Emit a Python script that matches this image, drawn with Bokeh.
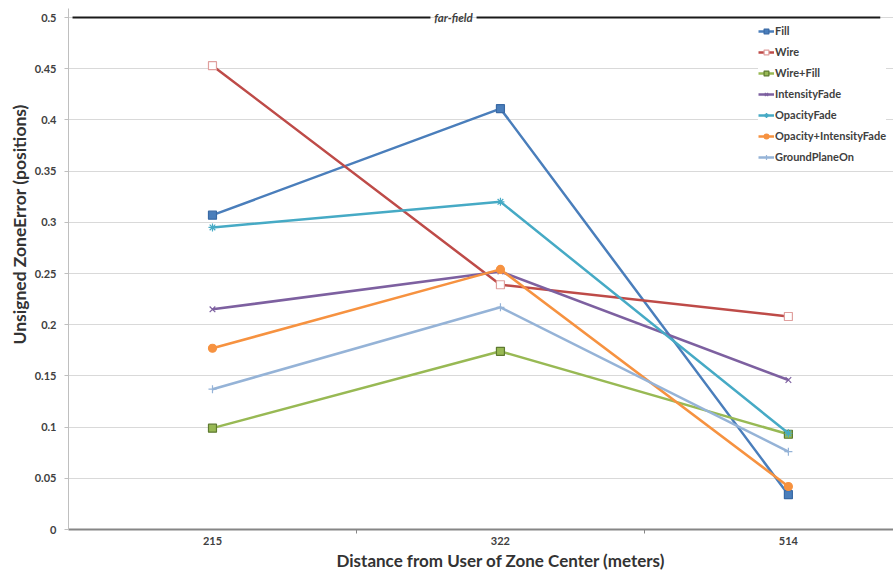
from bokeh.plotting import figure
from bokeh.models import Range1d, FixedTicker, Label, Legend, Title
from bokeh.embed import file_html
from bokeh.resources import INLINE

# ---- data ----
categories = ["215", "322", "514"]
fill = [0.307, 0.411, 0.034]
wire = [0.453, 0.239, 0.208]
wire_fill = [0.099, 0.174, 0.093]
intensity_fade = [0.215, 0.252, 0.146]
opacity_fade = [0.295, 0.320, 0.094]
opacity_intensity_fade = [0.177, 0.254, 0.042]
ground_plane_on = [0.137, 0.217, 0.076]
y_ticks = [0, 0.05, 0.1, 0.15, 0.2, 0.25, 0.3, 0.35, 0.4, 0.45, 0.5]
y_tick_labels = ["0", "0.05", "0.1", "0.15", "0.2", "0.25", "0.3", "0.35", "0.4", "0.45", "0.5"]
far_field_level = 0.5
far_field_label_x = 0.837          # category-axis position of the "far-field" label
far_field_x0 = [-0.486, 0.917]     # reference line pieces (left of / right of the label)
far_field_x1 = [0.757, 2.319]

FONT = "Lato"
TXT = "#404040"

xs = list(range(len(categories)))

p = figure(width=893, height=570, output_backend="svg", toolbar_location=None,
           x_range=Range1d(-0.5, 2.365), y_range=Range1d(0, 0.5088),
           min_border_left=68, min_border_right=0, min_border_top=8, min_border_bottom=40)
p.outline_line_color = None
p.background_fill_color = "white"

# axes
p.yaxis.ticker = FixedTicker(ticks=y_ticks)
p.yaxis.major_label_overrides = {t: l for t, l in zip(y_ticks, y_tick_labels)}
p.yaxis.axis_line_color = "#BFBFBF"
p.yaxis.major_tick_line_color = "#BFBFBF"
p.yaxis.major_tick_out = 4
p.yaxis.major_tick_in = 0
p.yaxis.minor_tick_line_color = None
p.yaxis.major_label_standoff = 8
p.yaxis.major_label_text_font = FONT
p.yaxis.major_label_text_font_style = "bold"
p.yaxis.major_label_text_font_size = "11px"
p.yaxis.major_label_text_color = TXT

p.xaxis.ticker = FixedTicker(ticks=xs, minor_ticks=[0.5, 1.5])
p.xaxis.major_label_overrides = {i: c for i, c in enumerate(categories)}
p.xaxis.axis_line_color = "#868686"
p.xaxis.axis_line_width = 2
p.xaxis.major_tick_out = 0
p.xaxis.major_tick_in = 0
p.xaxis.minor_tick_out = 4
p.xaxis.minor_tick_in = 0
p.xaxis.minor_tick_line_color = "#868686"
p.xaxis.major_label_standoff = 3
p.xaxis.major_label_text_font = FONT
p.xaxis.major_label_text_font_style = "bold"
p.xaxis.major_label_text_font_size = "11px"
p.xaxis.major_label_text_color = TXT

p.xgrid.grid_line_color = None
p.ygrid.grid_line_color = "#D9D9D9"

# far-field reference line with a gap for its label
p.segment(x0=far_field_x0, y0=[far_field_level] * 2, x1=far_field_x1, y1=[far_field_level] * 2,
          line_color="#1a1a1a", line_width=2)
p.add_layout(Label(x=far_field_label_x, y=far_field_level, text="far-field", text_align="center",
                   text_baseline="middle", text_font=FONT, text_font_style="bold italic",
                   text_font_size="11.5px", text_color=TXT))

series = [
    ("Fill", fill, "#4A7EBB", "square", "#4A7EBB", "#3A6AA5"),
    ("Wire", wire, "#BE4B48", "square", "white", "#E0A09E"),
    ("Wire+Fill", wire_fill, "#98B954", "square", "#98B954", "#5E7A30"),
    ("IntensityFade", intensity_fade, "#7D60A0", "x", None, "#7D60A0"),
    ("OpacityFade", opacity_fade, "#46AAC5", "asterisk", None, "#46AAC5"),
    ("Opacity+IntensityFade", opacity_intensity_fade, "#F69240", "circle", "#F69240", "#F69240"),
    ("GroundPlaneOn", ground_plane_on, "#95B3D7", "cross", None, "#95B3D7"),
]

items = []
for name, ys, color, marker, fc, lc in series:
    r1 = p.line(xs, ys, line_color=color, line_width=2.5)
    r2 = p.scatter(xs, ys, marker=marker, size=8, fill_color=fc, line_color=lc, line_width=1.2)
    items.append((name, [r1, r2]))

legend = Legend(items=items, location=(690, 366))
legend.label_text_font = FONT
legend.label_text_font_style = "bold"
legend.label_text_font_size = "11px"
legend.label_text_color = TXT
legend.glyph_width = 16
legend.glyph_height = 12
legend.label_height = 12
legend.label_standoff = 1
legend.spacing = 8
legend.padding = 4
legend.margin = 0
legend.border_line_color = None
legend.background_fill_color = "white"
legend.background_fill_alpha = 1
p.add_layout(legend)

# axis titles
p.add_layout(Title(text="Distance from User of Zone Center (meters)", align="left", offset=268,
                   text_font=FONT, text_font_style="bold", text_font_size="17px",
                   text_color="#333333", standoff=0), "below")
p.add_layout(Title(text="Unsigned ZoneError (positions)", align="left", offset=185,
                   text_font=FONT, text_font_style="bold", text_font_size="17.5px",
                   text_color="#333333", standoff=4), "left")

open("out.html", "w").write(file_html(p, INLINE))
